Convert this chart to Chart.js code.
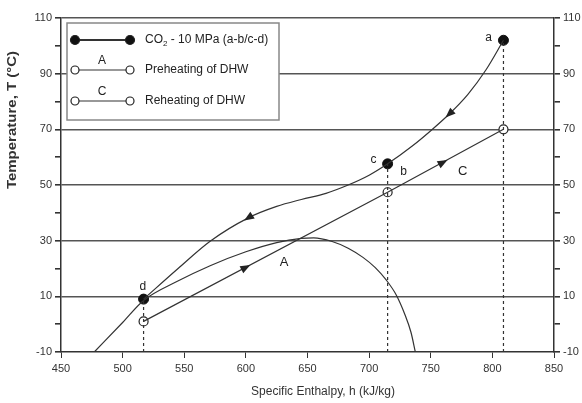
<!DOCTYPE html>
<html>
<head>
<meta charset="utf-8">
<script src="https://cdn.jsdelivr.net/npm/chart.js@4"></script>
<style>
  html, body { margin: 0; padding: 0; background: #fff; }
  #wrap { width: 582px; height: 403px; }
</style>
</head>
<body>
<div id="wrap"><canvas id="grafico"></canvas></div>
<script>
// eixos
const xTicks = [450, 500, 550, 600, 650, 700, 750, 800, 850];
const yTicks = [-10, 0, 10, 20, 30, 40, 50, 60, 70, 80, 90, 100, 110];
const yLabelled = [-10, 10, 30, 50, 70, 90, 110];
const yGrid = [10, 30, 50, 70, 90, 110];

// CO2 a 10 MPa (a -> c, d)
const co2H = [517, 545, 571, 602, 625, 645, 665, 682, 700, 715, 735, 750, 765, 780, 795, 809];
const co2T = [9, 20, 29.8, 38.2, 42.3, 44.8, 47, 49.8, 53.5, 57.6, 64, 69.5, 75.5, 82.5, 91.5, 102];

// cúpula de saturação do CO2
const domeH = [477, 500, 517, 544, 571, 600, 625, 645, 655, 670, 683, 695, 705, 714, 722, 729, 734, 737.5];
const domeT = [-10, 0.6, 8.5, 15.3, 21, 26, 29.3, 30.8, 31, 29.7, 27.3, 24, 20.3, 15.8, 10.5, 3.5, -3, -10];

// água (DHW): A = pré-aquecimento, C = reaquecimento
const waterH = [517, 715, 809];
const waterT = [1, 47.4, 70];

// pontos de estado
const filledH = [809, 715, 517];
const filledT = [102, 57.6, 9];
const openH = [517, 715, 809];
const openT = [1, 47.4, 70];

// setas (ponta -> direção)
const arrowH = [765, 602, 600, 760];
const arrowT = [75.5, 38.2, 20.4, 58.1];
const arrowToH = [755, 592, 610, 770];
const arrowToT = [71.4, 35.3, 22.7, 60.5];

// rótulos
const labelTxt = ['a', 'b', 'c', 'd', 'A', 'C'];
const labelH = [797, 728, 703.5, 516.5, 631, 776];
const labelT = [103, 54.7, 59, 13.6, 22.3, 55];

const pts = (hs, ts) => hs.map((h, i) => ({ x: h, y: ts[i] }));
const cor = '#333';

const anotacoes = {
    id: 'anotacoes',
    afterDatasetsDraw(chart) {
        const ctx = chart.ctx;
        const sx = chart.scales.x, sy = chart.scales.y;
        ctx.save();

        // setas
        arrowH.forEach((h, i) => {
            const px = sx.getPixelForValue(h), py = sy.getPixelForValue(arrowT[i]);
            const qx = sx.getPixelForValue(arrowToH[i]), qy = sy.getPixelForValue(arrowToT[i]);
            const ang = Math.atan2(qy - py, qx - px);
            ctx.save();
            ctx.translate(px, py);
            ctx.rotate(ang);
            ctx.beginPath();
            ctx.moveTo(5, 0);
            ctx.lineTo(-5, -4);
            ctx.lineTo(-5, 4);
            ctx.closePath();
            ctx.fillStyle = '#222';
            ctx.fill();
            ctx.restore();
        });

        // rótulos
        ctx.fillStyle = '#222';
        ctx.textAlign = 'center';
        ctx.textBaseline = 'middle';
        labelTxt.forEach((t, i) => {
            ctx.font = (t === 'A' || t === 'C') ? '13px "Liberation Sans", Arial' : '12px "Liberation Sans", Arial';
            ctx.fillText(t, sx.getPixelForValue(labelH[i]), sy.getPixelForValue(labelT[i]));
        });

        // legenda
        ctx.fillStyle = '#fff';
        ctx.fillRect(67, 23, 212, 97);
        ctx.strokeStyle = '#888';
        ctx.lineWidth = 1.5;
        ctx.strokeRect(67, 23, 212, 97);

        const linhas = [40, 70, 101];
        linhas.forEach((ly, i) => {
            ctx.strokeStyle = cor;
            ctx.lineWidth = i === 0 ? 2 : 1.2;
            ctx.beginPath();
            ctx.moveTo(75, ly);
            ctx.lineTo(130, ly);
            ctx.stroke();
            [75, 130].forEach(mx => {
                ctx.beginPath();
                ctx.arc(mx, ly, i === 0 ? 4.5 : 4, 0, Math.PI * 2);
                ctx.fillStyle = i === 0 ? '#111' : '#fff';
                ctx.fill();
                ctx.lineWidth = 1.2;
                ctx.strokeStyle = '#222';
                ctx.stroke();
            });
        });
        ctx.fillStyle = '#222';
        ctx.textAlign = 'center';
        ctx.font = '12px "Liberation Sans", Arial';
        ctx.fillText('A', 102, 61);
        ctx.fillText('C', 102, 92);

        ctx.textAlign = 'left';
        ctx.fillText('CO', 145, 40);
        let w = ctx.measureText('CO').width;
        ctx.font = '8px "Liberation Sans", Arial';
        ctx.fillText('2', 145 + w, 44);
        w += ctx.measureText('2').width;
        ctx.font = '12px "Liberation Sans", Arial';
        ctx.fillText(' - 10 MPa (a-b/c-d)', 145 + w, 40);
        ctx.fillText('Preheating of DHW', 145, 70);
        ctx.fillText('Reheating of DHW', 145, 101);

        // títulos dos eixos
        ctx.fillStyle = '#333';
        ctx.textAlign = 'center';
        ctx.font = '12px "Liberation Sans", Arial';
        ctx.fillText('Specific Enthalpy, h (kJ/kg)', 323, 392);
        ctx.save();
        ctx.translate(13, 120);
        ctx.rotate(-Math.PI / 2);
        ctx.scale(1.25, 1);
        ctx.font = 'bold 12px "Liberation Sans", Arial';
        ctx.fillText('Temperature, T (\u00B0C)', 0, 0);
        ctx.restore();

        ctx.restore();
    }
};

const eixoY = (pos) => ({
    type: 'linear',
    position: pos,
    min: -10, max: 110,
    afterBuildTicks: s => { s.ticks = yTicks.map(v => ({ value: v })); },
    afterFit: s => { s.width = pos === 'left' ? 61 : 28; },
    border: { display: true, color: cor, width: 1.5 },
    grid: {
        drawOnChartArea: pos === 'left',
        color: c => yGrid.includes(c.tick && c.tick.value) ? '#555' : 'rgba(0,0,0,0)',
        lineWidth: 1.6,
        tickColor: cor,
        tickLength: 6
    },
    ticks: {
        color: '#333',
        font: { family: '"Liberation Sans", Arial', size: 11 },
        padding: 3,
        autoSkip: false,
        callback: v => yLabelled.includes(v) ? String(v) : ''
    }
});

new Chart(document.getElementById('grafico').getContext('2d'), {
    type: 'scatter',
    data: {
        datasets: [
            { data: pts(co2H, co2T), showLine: true, borderColor: cor, borderWidth: 1.2, pointRadius: 0, cubicInterpolationMode: 'monotone' },
            { data: pts(domeH, domeT), showLine: true, borderColor: cor, borderWidth: 1.2, pointRadius: 0, cubicInterpolationMode: 'monotone' },
            { data: pts(waterH, waterT), showLine: true, borderColor: cor, borderWidth: 1.2, pointRadius: 0 },
            ...filledH.map((h, i) => ({
                data: [{ x: h, y: -10 }, { x: h, y: filledT[i] }],
                showLine: true, borderColor: cor, borderWidth: 1.2, borderDash: [3, 3], pointRadius: 0
            })),
            { data: pts(openH, openT), showLine: false, pointRadius: 4.5, pointBackgroundColor: '#fff', pointBorderColor: '#222', pointBorderWidth: 1.2 },
            { data: pts(filledH, filledT), showLine: false, pointRadius: 5, pointBackgroundColor: '#111', pointBorderColor: '#111', pointBorderWidth: 1 }
        ]
    },
    options: {
        responsive: true, maintainAspectRatio: false,
        animation: false,
        layout: { padding: { top: 18, left: 0, right: 0, bottom: 0 } },
        plugins: { legend: { display: false }, tooltip: { enabled: false } },
        scales: {
            x: {
                type: 'linear',
                min: 450, max: 850,
                afterBuildTicks: s => { s.ticks = xTicks.map(v => ({ value: v })); },
                afterFit: s => { s.height = 51; },
                border: { display: true, color: cor, width: 1.5 },
                grid: { drawOnChartArea: false, tickColor: cor, tickLength: 6 },
                ticks: { color: '#333', font: { family: '"Liberation Sans", Arial', size: 11 }, padding: 4, autoSkip: false, maxRotation: 0 }
            },
            y: eixoY('left'),
            y2: eixoY('right')
        }
    },
    plugins: [anotacoes]
});
</script>
</body>
</html>
